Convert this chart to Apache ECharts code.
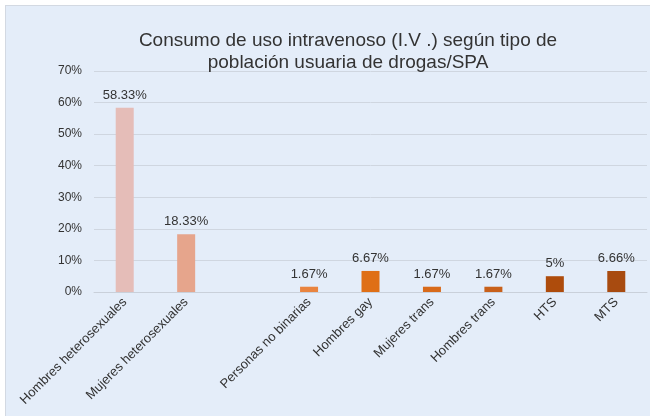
<!DOCTYPE html>
<html>
<head>
<meta charset="utf-8">
<script src="https://cdn.jsdelivr.net/npm/echarts@6/dist/echarts.min.js"></script>
<style>
  html, body { margin: 0; padding: 0; background: #fff; }
  #frame { position: absolute; left: 5px; top: 5px; width: 644px; height: 410px;
           border: 1px solid #d3d9e2; background: #e4edf9; }
  #chart { width: 644px; height: 410px; }
</style>
</head>
<body>
<div id="frame"><div id="chart"></div></div>
<script>
// ===== Data =====
const categories = [
  'Hombres heterosexuales', 'Mujeres heterosexuales', '', 'Personas no binarias',
  'Hombres gay', 'Mujeres trans', 'Hombres trans', 'HTS', 'MTS'
];
const values = [58.33, 18.33, null, 1.67, 6.67, 1.67, 1.67, 5, 6.66];
const barColors = [
  '#e5bdb8', '#e6a58c', '#e9843f', '#e9843f',
  '#df6f16', '#d86a1a', '#c8601a', '#ae4c0c', '#a84b10'
];
const yTicks = [0, 10, 20, 30, 40, 50, 60, 70];

const chart = echarts.init(document.getElementById('chart'));
chart.setOption({
  animation: false,
  textStyle: { fontFamily: 'Liberation Sans, Arial, sans-serif' },
  title: {
    text: 'Consumo de uso intravenoso (I.V .) según tipo de\npoblación usuaria de drogas/SPA',
    left: 337, top: 19, textAlign: 'center',
    textStyle: { fontSize: 19, fontWeight: 'normal', color: '#333', lineHeight: 22 }
  },
  grid: { left: 88, right: 3, top: 65, bottom: 124 },
  xAxis: {
    type: 'category',
    data: categories,
    axisTick: { show: false },
    axisLine: { lineStyle: { color: '#c9d0da' } },
    axisLabel: { rotate: 45, interval: 0, fontSize: 13, color: '#333', margin: 8 }
  },
  yAxis: {
    type: 'value',
    min: yTicks[0], max: yTicks[yTicks.length - 1], interval: 10,
    axisLabel: { formatter: v => v + '%', fontSize: 12, color: '#333', margin: 12 },
    splitLine: { lineStyle: { color: '#cfd6e0' } },
    axisLine: { show: false }, axisTick: { show: false }
  },
  series: [{
    type: 'bar',
    barWidth: 18,
    data: values.map((v, i) => ({ value: v, itemStyle: { color: barColors[i] } })),
    label: {
      show: true, position: 'top', distance: 6,
      fontSize: 13, color: '#333',
      formatter: p => p.value == null ? '' : p.value + '%'
    }
  }]
});
</script>
</body>
</html>
